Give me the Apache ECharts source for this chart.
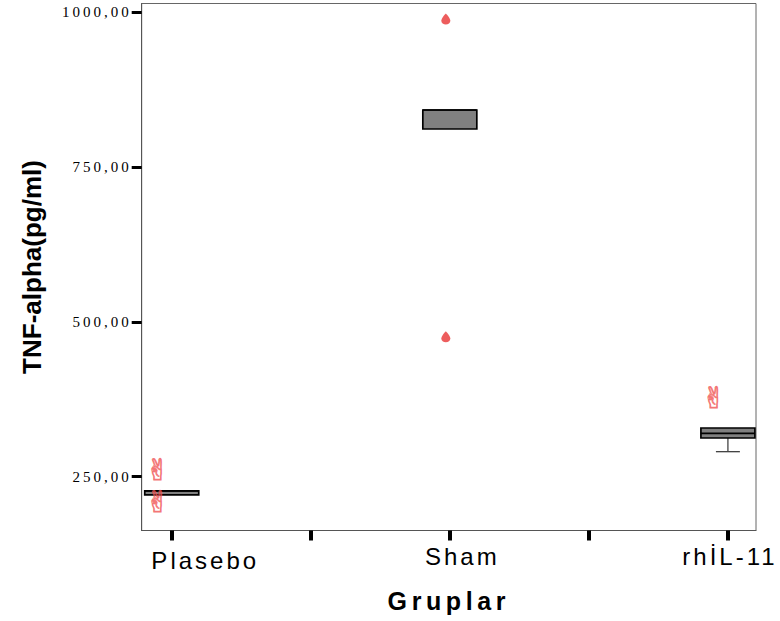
<!DOCTYPE html>
<html><head><meta charset="utf-8">
<script src="https://cdn.jsdelivr.net/npm/echarts@6/dist/echarts.min.js"></script>
<style>
html,body{margin:0;padding:0;background:#fff}
#chart{width:780px;height:621px}
#chart text[style*="15px"]{letter-spacing:3px}
#chart text[style*="24px"]{letter-spacing:3px}
#chart text[style*="25px"]{letter-spacing:4.6px}
</style></head><body><div id="chart"></div>
<script>
// ---- data ----
const categories = ['Plasebo', 'Sham', 'rhİL-11'];
const categoryPositions = [1, 2, 3];
const xTickValues = [1, 1.5, 2, 2.5, 3];
const yTickValues = [250, 500, 750, 1000];
const boxMin    = [220.6, 811.5, 290.4];
const boxQ1     = [220.6, 811.5, 312.5];
const boxMedian = [227.2, 842.2, 320.0];
const boxQ3     = [227.2, 842.2, 328.6];
const boxMax    = [227.2, 842.2, 328.6];
const outlierGroup = [2, 2];
const outlierValue = [989, 476];
const extremeGroup = [1, 1, 3];
const extremeValue = [261.3, 208.8, 377.1];

const boxData = categoryPositions.map((p, i) => [p, boxMin[i], boxQ1[i], boxMedian[i], boxQ3[i], boxMax[i]]);
const outlierData = outlierGroup.map((g, i) => [g, outlierValue[i]]);
const extremeData = extremeGroup.map((g, i) => [g, extremeValue[i]]);

const labelShift = { 'Plasebo': 'a', 'Sham': 'b', 'rhİL-11': 'c' };

const chart = echarts.init(document.getElementById('chart'), null, { renderer: 'svg' });
chart.setOption({
  animation: false,
  backgroundColor: '#fff',
  grid: { left: 141.7, right: 24, top: 3.5, bottom: 90.5, show: true, borderColor: '#666', borderWidth: 1, containLabel: false },
  xAxis: {
    type: 'value', min: 0.892, max: 3.101,
    splitLine: { show: false },
    axisLine: { show: true, lineStyle: { color: '#555', width: 1 } },
    axisTick: { show: true, customValues: xTickValues, length: 10, inside: false, lineStyle: { color: '#000', width: 4 } },
    axisLabel: {
      customValues: categoryPositions, margin: 13.5,
      formatter: v => { const c = categories[Math.round(v) - 1]; return '{' + labelShift[c] + '|' + c + '}'; },
      rich: {
        a: { fontSize: 24, fontFamily: 'Liberation Sans', color: '#000', lineHeight: 24, padding: [9, 0, 0, 67] },
        b: { fontSize: 24, fontFamily: 'Liberation Sans', color: '#000', lineHeight: 24, padding: [0, 0, 0, 25] },
        c: { fontSize: 24, fontFamily: 'Liberation Sans', color: '#000', lineHeight: 24, padding: [0, 0, 0, 4] }
      }
    },
    name: 'Gruplar', nameLocation: 'middle', nameGap: 57.5,
    nameTextStyle: { fontSize: 25, fontWeight: 'bold', fontFamily: 'Liberation Sans', color: '#000' }
  },
  yAxis: {
    type: 'value', min: 163.1, max: 1014.2,
    splitLine: { show: false },
    axisLine: { show: true, lineStyle: { color: '#555', width: 1 } },
    axisTick: { show: true, customValues: yTickValues, length: 10, lineStyle: { color: '#000', width: 3 } },
    axisLabel: {
      customValues: yTickValues, margin: 10,
      formatter: v => v.toFixed(2).replace('.', ','),
      fontSize: 15, fontFamily: 'Liberation Serif', color: '#000'
    },
    name: 'TNF-alpha(pg/ml)', nameLocation: 'middle', nameGap: 97,
    nameTextStyle: { fontSize: 26, fontWeight: 'bold', fontFamily: 'Liberation Sans', color: '#000' }
  },
  series: [
    {
      type: 'custom',
      data: boxData,
      encode: { x: 0, y: [1, 2, 3, 4, 5] },
      renderItem: function (params, api) {
        const x = api.value(0);
        const pMin = api.coord([x, api.value(1)]);
        const pQ1 = api.coord([x, api.value(2)]);
        const pMed = api.coord([x, api.value(3)]);
        const pQ3 = api.coord([x, api.value(4)]);
        const pMax = api.coord([x, api.value(5)]);
        const cx = pQ1[0], half = 27, capHalf = 12;
        const wStyle = { stroke: '#444', lineWidth: 1.3 };
        const children = [];
        if (pMin[1] - pQ1[1] > 0.5) {
          children.push({ type: 'line', shape: { x1: cx, y1: pQ1[1], x2: cx, y2: pMin[1] }, style: wStyle });
          children.push({ type: 'line', shape: { x1: cx - capHalf, y1: pMin[1], x2: cx + capHalf, y2: pMin[1] }, style: wStyle });
        }
        if (pQ3[1] - pMax[1] > 0.5) {
          children.push({ type: 'line', shape: { x1: cx, y1: pQ3[1], x2: cx, y2: pMax[1] }, style: wStyle });
          children.push({ type: 'line', shape: { x1: cx - capHalf, y1: pMax[1], x2: cx + capHalf, y2: pMax[1] }, style: wStyle });
        }
        children.push({ type: 'rect', shape: { x: cx - half, y: pQ3[1], width: half * 2, height: pQ1[1] - pQ3[1] },
          style: { fill: '#808080', stroke: '#000', lineWidth: 1.7 } });
        children.push({ type: 'line', shape: { x1: cx - half, y1: pMed[1], x2: cx + half, y2: pMed[1] },
          style: { stroke: '#000', lineWidth: 1.7 } });
        return { type: 'group', children: children };
      },
      silent: true
    },
    {
      type: 'scatter',
      data: outlierData,
      symbol: 'path://M5 0C5 0 0 6 0 9.5A5 5 0 0 0 10 9.5C10 6 5 0 5 0Z',
      symbolSize: [9, 11],
      symbolOffset: [-4, 0],
      itemStyle: { color: '#e93535' },
      silent: true
    },
    {
      type: 'scatter',
      data: extremeData,
      symbolSize: 1,
      itemStyle: { color: 'transparent' },
      label: {
        show: true, position: 'inside', formatter: '✌', offset: [-14, 0],
        fontSize: 29, fontFamily: 'DejaVu Sans', color: 'transparent',
        textBorderColor: '#f05050', textBorderWidth: 0.8
      },
      silent: true
    }
  ]
});
</script></body></html>
